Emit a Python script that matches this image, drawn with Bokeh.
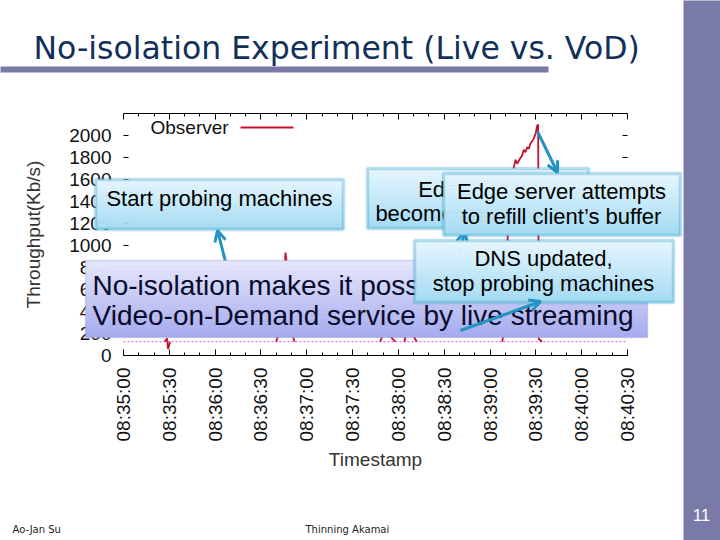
import math
import numpy as np
from bokeh.plotting import figure
from bokeh.models import (Range1d, LinearAxis, FixedTicker, BoxAnnotation,
                          Label, Arrow, OpenHead)
from bokeh.embed import file_html
from bokeh.resources import INLINE

# ---------------- data ----------------
tick_labels = ["08:35:00", "08:35:30", "08:36:00", "08:36:30", "08:37:00", "08:37:30",
               "08:38:00", "08:38:30", "08:39:00", "08:39:30", "08:40:00", "08:40:30"]
y_ticks = [0, 200, 400, 600, 800, 1000, 1200, 1400, 1600, 1800, 2000]
y_max = 2200

# live-stream baseline (dotted pink trace)
baseline_time = ["08:35:00", "08:40:30"]
baseline_kbps = [125, 125]

# Observer throughput excursions, seconds after 08:35:00 (nan = back at baseline)
nan = float("nan")
obs_sec = [27, 28.5, 29.2, 30.5, nan,
           100, 104, 105.5, 106, 106.6, 107.5, 109, 112, nan,
           168, 172, 173.5, 175, 178, nan,
           184, 187, 188.5, 190, 192, nan,
           248, 250, 251.5, 253, 255.6, 256.7, 257.8, 259.5, 261.0, 262.1, 263.2,
           264.3, 265.4, 266.5, 268.3, 269.8, 270.9, 271.5, 271.9, 274]
obs_kbps = [125, 155, 60, 125, nan,
            125, 310, 620, 936, 880, 520, 260, 125, nan,
            125, 260, 480, 170, 125, nan,
            125, 390, 520, 175, 125, nan,
            125, 320, 1064, 1420, 1712, 1779, 1743, 1788, 1818, 1870, 1848,
            1894, 1879, 1930, 1961, 2015, 2091, 2100, 150, 125]


def clock(s):
    h, m, sec = (float(v) for v in s.split(":"))
    return h * 3600 + m * 60 + sec


t0 = clock(tick_labels[0])
tick_secs = [int(clock(s) - t0) for s in tick_labels]
base_x = [clock(s) - t0 for s in baseline_time]

# ---------------- layout: frame = whole slide, chart box placed inside ----------------
W, H = 720, 540
CL, CR, CT, CB = 123, 627, 113, 355          # chart area on the slide (pixels)
x0, x1 = tick_secs[0], tick_secs[-1]
sx = (CR - CL) / (x1 - x0)
sy = (CB - CT) / y_max
xr = Range1d(x0 - CL / sx, x0 + (W - CL) / sx)
yr = Range1d(y_max + CT / sy - H / sy, y_max + CT / sy)

p = figure(width=W, height=H, output_backend="svg", toolbar_location=None, title=None,
           x_range=xr, y_range=yr, min_border=0,
           x_axis_label="Timestamp", y_axis_label="Throughput(Kb/s)")
p.outline_line_color = None
p.xgrid.visible = False
p.ygrid.visible = False
p.background_fill_color = "white"
p.border_fill_color = "white"

minor_x = [v for v in range(x0, x1 + 1, 10) if v not in tick_secs]
xt = FixedTicker(ticks=tick_secs, minor_ticks=minor_x)
yt = FixedTicker(ticks=y_ticks, minor_ticks=[])

FONT = "Liberation Sans"

xa = p.xaxis[0]
xa.ticker = xt
xa.fixed_location = 0
xa.bounds = (x0, x1)
xa.major_label_overrides = {t: lab for t, lab in zip(tick_secs, tick_labels)}
xa.major_label_orientation = math.pi / 2
xa.major_tick_in = 6
xa.major_tick_out = 0
xa.minor_tick_in = 3
xa.minor_tick_out = 0
xa.axis_line_color = "black"
xa.major_label_text_font = FONT
xa.major_label_text_font_size = "19px"
xa.major_label_text_color = "#111111"
xa.major_label_standoff = 12
xa.axis_label_text_font = FONT
xa.axis_label_text_font_style = "normal"
xa.axis_label_text_font_size = "19px"
xa.axis_label_text_color = "#333333"
xa.axis_label_standoff = 5

ya = p.yaxis[0]
ya.ticker = yt
ya.fixed_location = x0
ya.bounds = (0, y_max)
ya.axis_line_color = None
ya.major_tick_in = 5
ya.major_tick_out = 0
ya.minor_tick_line_color = None
ya.major_label_text_font = FONT
ya.major_label_text_font_size = "19px"
ya.major_label_text_color = "#111111"
ya.major_label_standoff = 12
ya.axis_label_text_font = FONT
ya.axis_label_text_font_style = "normal"
ya.axis_label_text_font_size = "19px"
ya.axis_label_text_color = "#333333"
ya.axis_label_standoff = 22

top_ax = LinearAxis(ticker=xt, fixed_location=y_max, bounds=(x0, x1),
                    major_label_overrides={t: "" for t in tick_secs},
                    major_tick_in=6, major_tick_out=0, minor_tick_in=3, minor_tick_out=0,
                    axis_line_color="black")
p.add_layout(top_ax, "above")
right_ax = LinearAxis(ticker=yt, fixed_location=x1, bounds=(0, y_max),
                      major_label_overrides={t: "" for t in y_ticks},
                      major_tick_in=5, major_tick_out=0, minor_tick_line_color=None,
                      axis_line_color=None)
p.add_layout(right_ax, "right")

p.line(base_x, baseline_kbps, line_color="#e2559c", line_width=1.2, line_dash="2 2")
p.line(np.array(obs_sec, dtype=float), np.array(obs_kbps, dtype=float),
       line_color="#c8102e", line_width=1.8)


# ---------------- annotations (slide pixels -> frame screen units) ----------------
def fx(X):
    return X


def fy(Y):
    return H - Y


def mix(c1, c2, f):
    a = [int(c1[i:i + 2], 16) for i in (1, 3, 5)]
    b = [int(c2[i:i + 2], 16) for i in (1, 3, 5)]
    return "#%02x%02x%02x" % tuple(round(a[k] + (b[k] - a[k]) * f) for k in range(3))


def rect(L, R, T, B, **kw):
    p.add_layout(BoxAnnotation(left=fx(L), right=fx(R), top=fy(T), bottom=fy(B),
                               left_units="screen", right_units="screen",
                               top_units="screen", bottom_units="screen", **kw))


def add_box(L, R, T, B, c_top, c_bot, line_col, lw, n=16):
    for i in range(n):
        y0 = T + (B - T) * i / n
        y1 = T + (B - T) * (i + 1) / n
        rect(L, R, y0, min(B, y1 + 0.6), fill_color=mix(c_top, c_bot, (i + 0.5) / n),
             fill_alpha=1, line_color=None)
    rect(L, R, T, B, fill_alpha=0, line_color=line_col, line_width=lw)


def add_text(X, Y, txt, size, color="black", align="center", font=FONT, baseline="middle"):
    p.add_layout(Label(x=fx(X), y=fy(Y), x_units="screen", y_units="screen", text=txt,
                       text_font=font, text_font_size=size, text_color=color,
                       text_align=align, text_baseline=baseline))


def add_arrow(X0, Y0, X1, Y1, color="#2393c2", lw=3, head=True):
    end = OpenHead(size=11, line_color=color, line_width=lw) if head else None
    p.add_layout(Arrow(x_start=fx(X0), y_start=fy(Y0), x_end=fx(X1), y_end=fy(Y1),
                       start_units="screen", end_units="screen", line_color=color,
                       line_width=lw, end=end))


TEAL_T, TEAL_B, TEAL_L = "#e6f6fd", "#a3daf3", "#2196c3"
PUR_T, PUR_B, PUR_L = "#e6e8fb", "#a4aaee", "#8a8fcf"
SLIDE = "#7a7aa8"

# slide decorations
rect(-5, 548, 66, 72, fill_color=SLIDE, fill_alpha=1, line_color=None)
rect(683, W + 5, -5, H + 5, fill_color=SLIDE, fill_alpha=1, line_color=None)
add_text(33, 47, "No-isolation Experiment (Live vs. VoD)", "31.5px", color="#12305a",
         align="left", font="DejaVu Sans", baseline="alphabetic")
add_text(701, 514, "11", "17px", color="white")
add_text(12, 529, "Ao-Jan Su", "10px", color="#222222", align="left", font="DejaVu Sans")
add_text(305, 529, "Thinning Akamai", "10px", color="#222222", align="left",
         font="DejaVu Sans")

# legend (gnuplot style: label then line sample)
add_text(150, 127, "Observer", "19px", color="#111111", align="left")
add_arrow(240, 127, 293, 127, color="#c8102e", lw=2, head=False)

# callouts
add_box(95, 343, 179, 229, TEAL_T, TEAL_B, TEAL_L, 3.5)
add_text(219, 198, "Start probing machines", "22px")
add_arrow(235, 300, 217, 230)

add_box(367, 588, 168, 228, TEAL_T, TEAL_B, TEAL_L, 3.5)
add_text(477, 189, "Edge server", "22px")
add_text(477, 213, "becomes overloaded", "22px")
add_arrow(452, 290, 464, 231)

add_box(443, 680, 173, 235, TEAL_T, TEAL_B, TEAL_L, 3.5)
add_text(561, 191, "Edge server attempts", "22px")
add_text(561, 216, "to refill client\u2019s buffer", "22px")
add_arrow(537, 131, 557, 172)

add_box(85, 647, 260, 337, PUR_T, PUR_B, PUR_L, 1.5)
add_text(92, 285, "No-isolation makes it possible to provide", "28px", color="#0b0b2b",
         align="left")
add_text(92, 315, "Video-on-Demand service by live streaming", "28px", color="#0b0b2b",
         align="left")

add_box(414, 673, 240, 302, TEAL_T, TEAL_B, TEAL_L, 3.5)
add_text(543, 258, "DNS updated,", "22px")
add_text(543, 283, "stop probing machines", "22px")
add_arrow(460, 330, 540, 301)

open("out.html", "w").write(file_html(p, INLINE))
